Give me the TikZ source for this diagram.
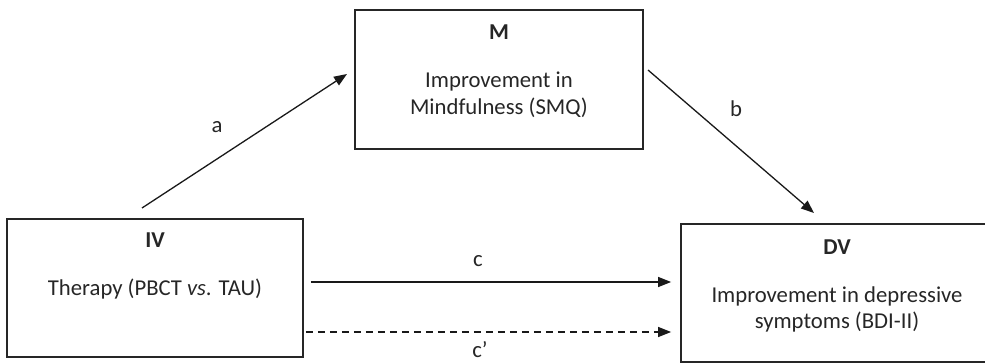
\documentclass[tikz,border=0pt]{standalone}
\usepackage{fontspec}
\setmainfont{Carlito}
\usetikzlibrary{arrows.meta,calc}
\begin{document}
\begin{tikzpicture}[x=1pt,y=-1pt,
  box/.style={draw=black!85, line width=1.7pt, inner sep=0pt},
  txt/.style={font=\fontsize{22.7}{27}\selectfont, text=black!85, inner sep=0pt, anchor=base},
  hdr/.style={txt, font=\fontsize{22.7}{27}\selectfont\bfseries},
  conn/.style={draw=black!90, line width=1.3pt, -{Triangle[length=13pt,width=10pt]}},
  dconn/.style={conn, dash pattern=on 7pt off 5pt}]
\useasboundingbox (0,0) rectangle (985,363);
\clip (0,0) rectangle (985,363);
% boxes
\node[box, minimum width=296pt, minimum height=138pt] (IV) at (155,288) {};
\node[box, minimum width=288pt, minimum height=139pt] (M) at (499,79.5) {};
\node[box, minimum width=312pt, minimum height=138pt] (DV) at (837,293) {};
% texts
\node[hdr] (IVh) at (155,248) {IV};
\node[txt] (IVt) at (155,296) {Therapy (PBCT \textit{vs}. TAU)};
\node[hdr] (Mh) at (499,40) {M};
\node[txt] (Mt1) at (499,88) {Improvement in};
\node[txt] (Mt2) at (499,115) {Mindfulness (SMQ)};
\node[hdr] (DVh) at (837,255) {DV};
\node[txt] (DVt1) at (837,302) {Improvement in depressive};
\node[txt] (DVt2) at (837,328) {symptoms (BDI-II)};
% connector end points
\coordinate (aS) at (142,208);
\coordinate (aE) at (347,74);
\coordinate (bS) at (648,70);
\coordinate (bE) at (814,213);
\coordinate (cS) at ($(IV.east)+(7,-6)$);
\coordinate (cE) at ($(DV.west)+(-9,-11)$);
\coordinate (dS) at ($(IV.east)+(2,44)$);
\coordinate (dE) at ($(DV.west)+(-9,39)$);
% connectors
\draw[conn] (aS) -- (aE);
\draw[conn] (bS) -- (bE);
\draw[conn] (cS) -- (cE);
\draw[dconn] (dS) -- (dE);
\node[txt] (la) at (217,133) {a};
\node[txt] (lb) at (736,117) {b};
\node[txt] (lc) at (478,267) {c};
\node[txt] (lcp) at (480,357) {c’};
\end{tikzpicture}
\end{document}
